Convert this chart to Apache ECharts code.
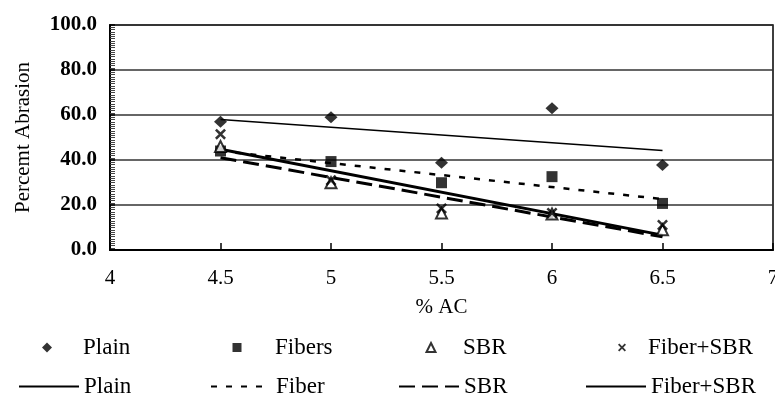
<!DOCTYPE html>
<html><head><meta charset="utf-8">
<script src="https://cdn.jsdelivr.net/npm/echarts@6/dist/echarts.min.js"></script>
<style>html,body{margin:0;padding:0;background:#fff}#c{width:775px;height:397px}</style>
</head><body><div id="c"></div>
<script>
const acValues = [4.5, 5, 5.5, 6, 6.5];
const plainValues = [57.0, 59.0, 38.8, 63.0, 37.8];
const fibersValues = [44.0, 39.3, 29.9, 32.6, 20.7];
const sbrValues = [46.0, 29.9, 16.4, 16.0, 9.0];
const fiberSbrValues = [51.5, 31.0, 18.5, 16.4, 11.1];
const xTicks = [4, 4.5, 5, 5.5, 6, 6.5, 7];
const yTicks = [0, 20, 40, 60, 80, 100];
const scatterNames = ['Plain', 'Fibers', 'SBR', 'Fiber+SBR'];
const trendNames = ['Plain\u200b', 'Fiber\u200b', 'SBR\u200b', 'Fiber+SBR\u200b'];

function fit(xs, ys) {
  const n = xs.length;
  const mx = xs.reduce((a, b) => a + b, 0) / n;
  const my = ys.reduce((a, b) => a + b, 0) / n;
  let sxy = 0, sxx = 0;
  for (let i = 0; i < n; i++) { sxy += (xs[i] - mx) * (ys[i] - my); sxx += (xs[i] - mx) ** 2; }
  const b = sxy / sxx, a = my - b * mx;
  const x0 = xs[0], x1 = xs[n - 1];
  return [[x0, a + b * x0], [x1, a + b * x1]];
}
const pairs = v => acValues.map((x, i) => [x, v[i]]);

const FONT = '"Liberation Serif", "Times New Roman", serif';
const crossPath = 'path://M0,1.6L1.6,0L5,3.4L8.4,0L10,1.6L6.6,5L10,8.4L8.4,10L5,6.6L1.6,10L0,8.4L3.4,5Z';

const seriesData = [plainValues, fibersValues, sbrValues, fiberSbrValues];
const symbols = ['diamond', 'rect', 'triangle', crossPath];
const symSizes = [[13, 12], 11, 11, 11];
const scatterStyles = [
  { color: '#000' }, { color: '#000' },
  { color: '#fff', borderColor: '#000', borderWidth: 2 },
  { color: '#000' }
];
const lineStyles = [
  { color: '#000', width: 1.5, type: 'solid' },
  { color: '#000', width: 2.5, type: [6, 9] },
  { color: '#000', width: 3, type: [16, 7] },
  { color: '#000', width: 3, type: 'solid' }
];

const series = [];
seriesData.forEach((v, i) => {
  series.push({
    name: scatterNames[i], type: 'scatter', data: pairs(v),
    symbol: symbols[i], symbolSize: symSizes[i], itemStyle: scatterStyles[i], z: 5
  });
});
seriesData.forEach((v, i) => {
  series.push({
    name: trendNames[i], type: 'line', data: fit(acValues, v),
    symbol: 'circle', showSymbol: false, lineStyle: lineStyles[i],
    itemStyle: { color: '#000' }, z: 3
  });
});

const markerCenters = [47, 237, 430, 622];
const markerSizes = [10, 9, 9, 8];
const textStarts = [83, 275, 462, 648];
const lineLefts = [18, 210, 398, 585];
const legends = [];
const legendText = { fontFamily: FONT, fontSize: 23, color: '#000' };
scatterNames.forEach((n, i) => {
  const s = markerSizes[i];
  const left = markerCenters[i] - s / 2;
  legends.push({
    data: [n], left: left, top: 336, padding: 0, itemWidth: s, itemHeight: s, itemGap: 0,
    textStyle: Object.assign({}, legendText, { padding: [0, 0, 0, textStarts[i] - (left + s + 5)] }),
    selectedMode: false
  });
});
trendNames.forEach((n, i) => legends.push({
  data: [{ name: n, itemStyle: { color: 'rgba(0,0,0,0)', borderWidth: 0, opacity: 0 } }],
  left: lineLefts[i], top: 375, padding: 0, itemWidth: 60, itemHeight: 14, itemGap: 0,
  formatter: s => s.replace(/\u200b/g, ''),
  textStyle: legendText, selectedMode: false
}));

const chart = echarts.init(document.getElementById('c'), null, { renderer: 'canvas' });
chart.setOption({
  animation: false,
  backgroundColor: '#fff',
  grid: { left: 110, right: 2, top: 25, bottom: 147, outerBoundsMode: 'none', containLabel: false,
    show: true, borderColor: '#000', borderWidth: 1.5, backgroundColor: 'transparent' },
  legend: legends,
  xAxis: {
    type: 'value', min: xTicks[0], max: xTicks[xTicks.length - 1], interval: 0.5,
    name: '% AC', nameLocation: 'middle', nameGap: 47,
    nameTextStyle: { fontFamily: FONT, fontSize: 21, color: '#000' },
    axisLine: { onZero: false, lineStyle: { color: '#000', width: 2 } },
    axisTick: { inside: true, length: 7, lineStyle: { color: '#000', width: 1.5 } },
    axisLabel: { margin: 18, fontFamily: FONT, fontSize: 21, color: '#000', hideOverlap: false,
      showMaxLabel: true, formatter: v => String(v) },
    splitLine: { show: false }
  },
  yAxis: {
    type: 'value', min: yTicks[0], max: yTicks[yTicks.length - 1], interval: 20,
    name: 'Percemt Abrasion', nameLocation: 'middle', nameGap: 76, nameRotate: 90,
    nameTextStyle: { fontFamily: FONT, fontSize: 21, color: '#000' },
    axisLine: { lineStyle: { color: '#000', width: 2 } },
    axisTick: { inside: true, length: 5, lineStyle: { color: '#000', width: 1.5 } },
    minorTick: { show: true, splitNumber: 20, length: 5, lineStyle: { color: '#444', width: 1 } },
    axisLabel: { margin: 13, fontFamily: FONT, fontSize: 21, fontWeight: 'bold', color: '#000',
      formatter: v => v.toFixed(1) },
    splitLine: { show: true, lineStyle: { color: '#333', width: 1.5 } }
  },
  series: series
});
</script></body></html>
